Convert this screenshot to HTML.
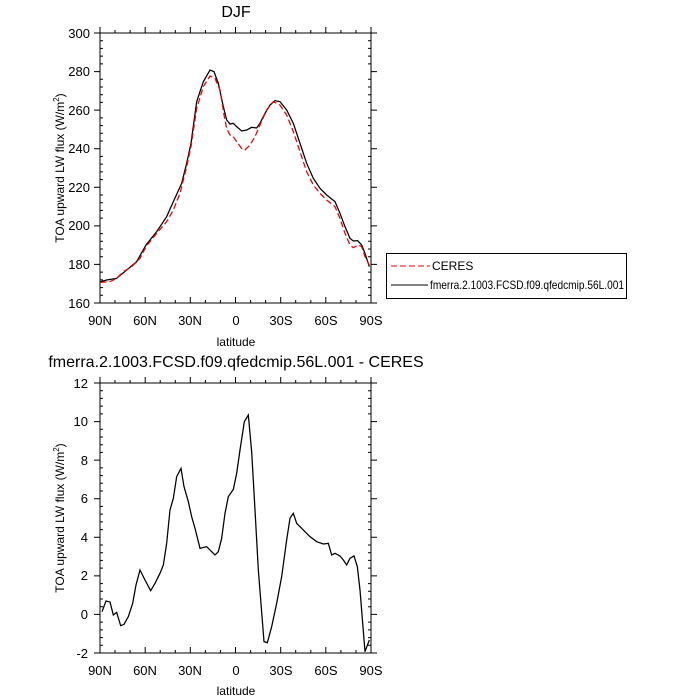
<!DOCTYPE html>
<html><head><style>body{margin:0;background:#fff}svg{display:block}text{font-family:"Liberation Sans",sans-serif;fill:#000}</style></head>
<body>
<svg width="700" height="700" viewBox="0 0 700 700" xmlns="http://www.w3.org/2000/svg">
<defs>
<g id="xt">
<g stroke="#000" stroke-width="1">
<path d="M100,0v-6M145.2,0v-6M190.3,0v-6M235.5,0v-6M280.7,0v-6M325.8,0v-6M371,0v-6"/>
<path d="M115,0v-3M130.1,0v-3M160.2,0v-3M175.3,0v-3M205.4,0v-3M220.4,0v-3M250.6,0v-3M265.6,0v-3M295.7,0v-3M310.8,0v-3M340.9,0v-3M356,0v-3"/>
</g>
</g>
<g id="ytA" stroke="#000">
<path d="M100,40.7h3M100,48.4h3M100,56.1h3M100,63.9h3M100,79.3h3M100,87h3M100,94.7h3M100,102.4h3M100,117.9h3M100,125.6h3M100,133.3h3M100,141h3M100,156.4h3M100,164.1h3M100,171.9h3M100,179.6h3M100,195h3M100,202.7h3M100,210.4h3M100,218.1h3M100,233.6h3M100,241.3h3M100,249h3M100,256.7h3M100,272.1h3M100,279.9h3M100,287.6h3M100,295.3h3"/>
<path d="M371,40.7h-3M371,48.4h-3M371,56.1h-3M371,63.9h-3M371,79.3h-3M371,87h-3M371,94.7h-3M371,102.4h-3M371,117.9h-3M371,125.6h-3M371,133.3h-3M371,141h-3M371,156.4h-3M371,164.1h-3M371,171.9h-3M371,179.6h-3M371,195h-3M371,202.7h-3M371,210.4h-3M371,218.1h-3M371,233.6h-3M371,241.3h-3M371,249h-3M371,256.7h-3M371,272.1h-3M371,279.9h-3M371,287.6h-3M371,295.3h-3"/>
</g>
</defs>
<text x="236" y="17" font-size="16" text-anchor="middle">DJF</text>
<rect x="100" y="33" width="271" height="270" fill="none" stroke="#000"/>
<use href="#xt" transform="translate(0,303)"/>
<use href="#xt" transform="translate(0,33)"/>
<use href="#ytA"/>
<g stroke="#000">
<path d="M94,33h6M94,71.6h6M94,110.1h6M94,148.7h6M94,187.3h6M94,225.9h6M94,264.4h6M94,303h6"/>
<path d="M371,33h6M371,71.6h6M371,110.1h6M371,148.7h6M371,187.3h6M371,225.9h6M371,264.4h6M371,303h6"/>
</g>
<g font-size="13" text-anchor="end">
<text x="90" y="38">300</text><text x="90" y="76">280</text><text x="90" y="115">260</text><text x="90" y="153">240</text><text x="90" y="192">220</text><text x="90" y="230">200</text><text x="90" y="269">180</text><text x="90" y="308">160</text>
</g>
<g font-size="13" text-anchor="middle">
<text x="100" y="325">90N</text><text x="145" y="325">60N</text><text x="190" y="325">30N</text><text x="236" y="325">0</text><text x="281" y="325">30S</text><text x="326" y="325">60S</text><text x="371" y="325">90S</text>
</g>
<text x="236" y="346" font-size="12" text-anchor="middle">latitude</text>
<text transform="translate(64,168) rotate(-90)" font-size="12" text-anchor="middle">TOA upward LW flux (W/m<tspan font-size="8" dy="-5">2</tspan><tspan dy="5">)</tspan></text>
<g transform="translate(60,20) scale(0.33333)" fill="none" stroke-width="3.8">
<polyline stroke="#000" points="122,785 140,780 170,775 200,750 230,725 258,675 290,635 320,590 340,545 365,490 380,430 393,370 410,245 430,185 450,150 462,155 475,190 490,260 500,300 510,312 520,310 530,320 545,333 560,330 575,322 590,324 600,310 615,280 630,255 645,242 660,245 680,270 700,310 720,370 740,430 760,475 780,505 800,525 825,545 840,580 855,620 870,655 880,663 893,662 905,675 915,700 928,740"/>
<polyline stroke="#e00" stroke-dasharray="18,9" points="122,787 150,785 170,775 190,755 215,740 240,715 258,680 290,640 320,605 340,570 360,520 380,440 393,380 410,265 430,200 450,168 465,175 480,210 493,290 500,325 510,345 520,350 530,365 545,385 555,390 570,375 585,350 600,315 620,270 640,245 660,255 680,285 700,335 720,395 740,455 760,495 780,520 800,540 825,560 840,595 855,640 870,675 880,683 895,675 905,680 915,710 928,735"/>
</g>
<rect x="386.5" y="253.5" width="240" height="45" fill="none" stroke="#000"/>
<line x1="391" y1="266" x2="430" y2="266" stroke="#e00" stroke-dasharray="6,3"/>
<text x="432" y="270" font-size="12">CERES</text>
<line x1="391" y1="285" x2="428" y2="285" stroke="#000"/>
<text x="430" y="289" font-size="12" textLength="194" lengthAdjust="spacingAndGlyphs">fmerra.2.1003.FCSD.f09.qfedcmip.56L.001</text>

<text x="236" y="367" font-size="16" text-anchor="middle">fmerra.2.1003.FCSD.f09.qfedcmip.56L.001 - CERES</text>
<rect x="100" y="383" width="271" height="270" fill="none" stroke="#000"/>
<use href="#xt" transform="translate(0,653)"/>
<use href="#xt" transform="translate(0,383)"/>
<use href="#ytA" transform="translate(0,350)"/>
<g stroke="#000">
<path d="M94,383h6M94,421.6h6M94,460.1h6M94,498.7h6M94,537.3h6M94,575.9h6M94,614.4h6M94,653h6"/>
<path d="M371,383h6M371,421.6h6M371,460.1h6M371,498.7h6M371,537.3h6M371,575.9h6M371,614.4h6M371,653h6"/>
</g>
<g font-size="13" text-anchor="end">
<text x="88" y="388">12</text><text x="88" y="426">10</text><text x="88" y="465">8</text><text x="88" y="503">6</text><text x="88" y="542">4</text><text x="88" y="580">2</text><text x="88" y="619">0</text><text x="88" y="658">-2</text>
</g>
<g font-size="13" text-anchor="middle">
<text x="100" y="675">90N</text><text x="145" y="675">60N</text><text x="190" y="675">30N</text><text x="236" y="675">0</text><text x="281" y="675">30S</text><text x="326" y="675">60S</text><text x="371" y="675">90S</text>
</g>
<text x="236" y="695" font-size="12" text-anchor="middle">latitude</text>
<text transform="translate(64,518) rotate(-90)" font-size="12" text-anchor="middle">TOA upward LW flux (W/m<tspan font-size="8" dy="-5">2</tspan><tspan dy="5">)</tspan></text>
<g transform="translate(60,370) scale(0.33333)" fill="none" stroke-width="3.8">
<polyline stroke="#000" points="126,725 138,693 150,696 160,735 170,727 182,767 192,763 205,740 218,700 228,645 240,600 255,630 272,662 285,640 300,610 310,585 320,520 330,420 340,385 350,320 363,295 372,350 385,395 395,440 405,475 420,535 440,530 455,545 465,555 475,545 485,505 495,430 505,380 520,358 530,310 540,240 553,155 565,135 575,245 585,420 595,600 612,815 622,818 635,770 650,700 665,620 680,510 690,445 700,430 710,460 720,470 735,485 750,500 770,515 790,522 805,520 815,555 825,550 840,558 850,570 860,585 870,565 882,558 892,590 900,660 915,845 928,810"/>
</g>
</svg>
</body></html>
